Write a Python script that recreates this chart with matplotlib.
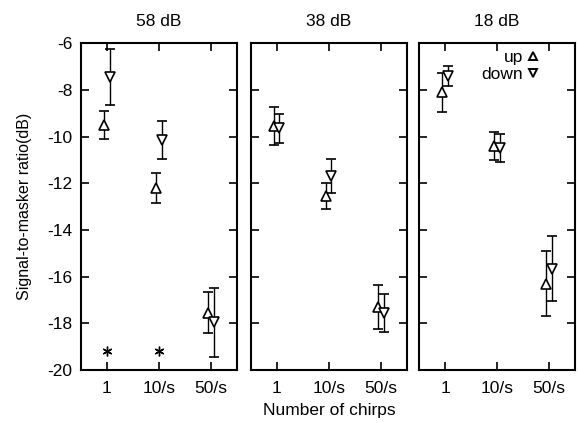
import matplotlib
matplotlib.use('Agg')
import matplotlib.pyplot as plt
from matplotlib.lines import Line2D

plt.rcParams['font.family'] = ['Liberation Sans', 'DejaVu Sans']
plt.rcParams['axes.unicode_minus'] = False

LEVELS = ['58 dB', '38 dB', '18 dB']
CHIRPS = ['1', '10/s', '50/s']

# means and half-widths of error bars, per level, per chirp condition
UP_MEAN = [[-9.5, -12.2, -17.55], [-9.55, -12.55, -17.3], [-8.1, -10.4, -16.3]]
UP_ERR = [[0.6, 0.63, 0.88], [0.8, 0.56, 0.93], [0.83, 0.59, 1.4]]
DOWN_MEAN = [[-7.45, -10.15, -17.95], [-9.65, -11.7, -17.55], [-7.4, -10.5, -15.65]]
DOWN_ERR = [[1.2, 0.8, 1.48], [0.62, 0.73, 0.83], [0.42, 0.6, 1.4]]

# asterisks (58 dB panel only)
STAR_X = [0, 1]
STAR_Y = [-19.2, -19.2]

OFFSET = 0.05
FONT = 12.5


def main():
    fig = plt.figure(figsize=(5.78, 4.23), dpi=100)
    lefts = [0.140, 0.434, 0.725]
    width = 0.270
    axes = []
    for i, level in enumerate(LEVELS):
        ax = fig.add_axes([lefts[i], 0.125, width, 0.773])
        axes.append(ax)
        xs = [k + 0.5 for k in range(len(CHIRPS))]
        ax.errorbar([x - OFFSET for x in xs], UP_MEAN[i], yerr=UP_ERR[i],
                    fmt='^', mfc='white', mec='black', ecolor='black',
                    ms=6.5, mew=1.2, capsize=3.5, elinewidth=1, capthick=1)
        ax.errorbar([x + OFFSET for x in xs], DOWN_MEAN[i], yerr=DOWN_ERR[i],
                    fmt='v', mfc='white', mec='black', ecolor='black',
                    ms=6.5, mew=1.2, capsize=3.5, elinewidth=1, capthick=1)
        if i == 0:
            ax.plot([x + 0.5 for x in STAR_X], STAR_Y, ls='none',
                    marker=(6, 2, 0), color='black', ms=7, mew=1)
        ax.set_xlim(0, 3)
        ax.set_ylim(-20, -6)
        ax.set_xticks(xs)
        ax.set_xticklabels(CHIRPS, fontsize=FONT)
        ax.set_yticks(range(-20, -5, 2))
        ax.tick_params(direction='in', length=6, width=1.2,
                       top=True, right=True, labelsize=FONT)
        ax.tick_params(axis='x', pad=8)
        ax.tick_params(axis='y', pad=6)
        if i > 0:
            ax.set_yticklabels([])
        ax.set_title(level, fontsize=FONT, pad=12)
        for spine in ax.spines.values():
            spine.set_linewidth(1.5)

    axes[0].set_ylabel('Signal-to-masker ratio(dB)', fontsize=11.5,
                       labelpad=11)
    axes[1].set_xlabel('Number of chirps', fontsize=FONT, labelpad=5)

    handles = [
        Line2D([], [], ls='none', marker='^', mfc='white', mec='black',
               ms=5.5, mew=1.4),
        Line2D([], [], ls='none', marker='v', mfc='white', mec='black',
               ms=5.5, mew=1.4),
    ]
    axes[2].legend(handles, ['up', 'down'], loc='upper right',
                   bbox_to_anchor=(0.81, 1.0),
                   frameon=False, markerfirst=False, fontsize=FONT,
                   handletextpad=0.3, labelspacing=0.1,
                   borderaxespad=0.0, handlelength=0.6)

    fig.savefig('out.png', dpi=100)


if __name__ == '__main__':
    main()
